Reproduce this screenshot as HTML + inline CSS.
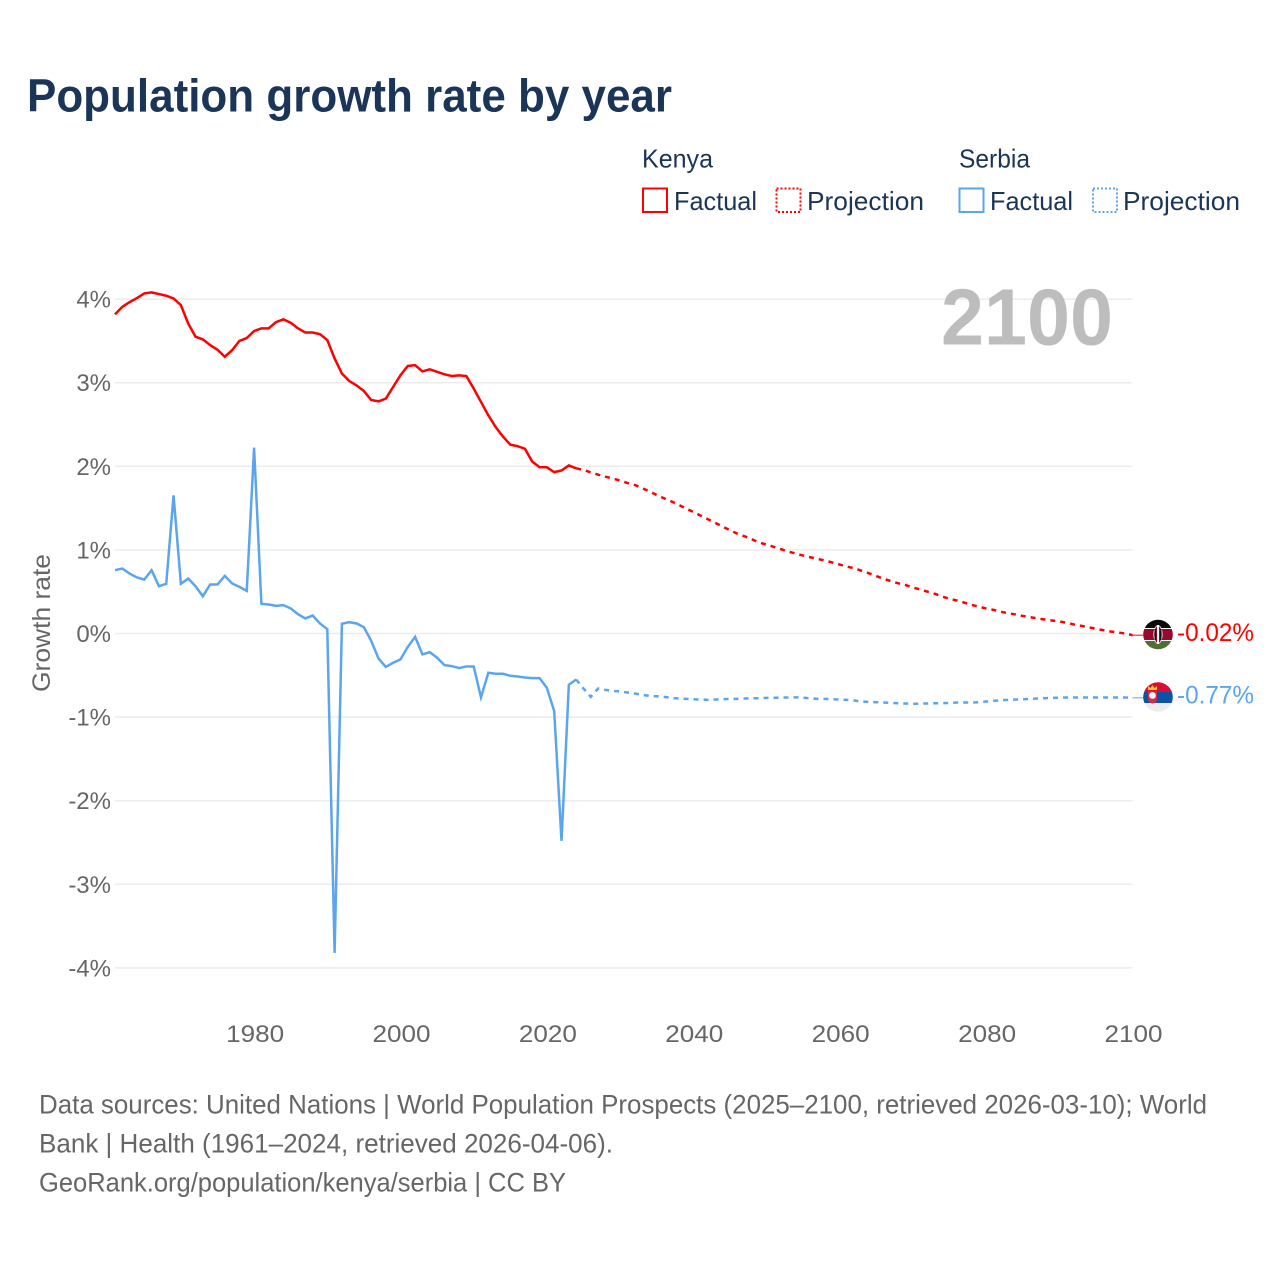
<!DOCTYPE html>
<html lang="en">
<head>
<meta charset="utf-8">
<title>Population growth rate by year</title>
<style>
html,body{margin:0;padding:0;background:#fff;width:1280px;height:1280px;overflow:hidden}
svg{display:block;font-family:"Liberation Sans",sans-serif}
</style>
</head>
<body>
<svg id="chart" width="1280" height="1280" viewBox="0 0 1280 1280" xmlns="http://www.w3.org/2000/svg">
  <defs>
    <clipPath id="clip-kenya"><circle cx="1158" cy="634.5" r="14.8"/></clipPath>
    <clipPath id="clip-serbia"><circle cx="1158" cy="697" r="14.8"/></clipPath>
  </defs>
  <text x="27" y="111.5" font-size="46" font-weight="700" fill="#1a3557" textLength="645" lengthAdjust="spacingAndGlyphs">Population growth rate by year</text>

  <g fill="#1a3557" font-size="26">
    <text x="642" y="167.500" textLength="71" lengthAdjust="spacingAndGlyphs">Kenya</text>
    <rect x="643" y="188.500" width="24" height="23.500" fill="#fff" stroke="#ff0000" stroke-width="2"/>
    <text x="674" y="210" textLength="83" lengthAdjust="spacingAndGlyphs">Factual</text>
    <rect x="776.5" y="188.500" width="24" height="23.500" fill="#fff" stroke="#ff0000" stroke-width="2" stroke-dasharray="2 2"/>
    <text x="807" y="210" textLength="117" lengthAdjust="spacingAndGlyphs">Projection</text>
    <text x="959" y="167.500" textLength="71" lengthAdjust="spacingAndGlyphs">Serbia</text>
    <rect x="959.5" y="188.500" width="24" height="23.500" fill="#fff" stroke="#5ba5ee" stroke-width="2"/>
    <text x="990" y="210" textLength="83" lengthAdjust="spacingAndGlyphs">Factual</text>
    <rect x="1093" y="188.500" width="24" height="23.500" fill="#fff" stroke="#5ba5ee" stroke-width="2" stroke-dasharray="2 2"/>
    <text x="1123" y="210" textLength="117" lengthAdjust="spacingAndGlyphs">Projection</text>
  </g>

  <g id="grid"></g>
  <text x="941" y="344.500" font-size="80" font-weight="700" fill="#bdbdbd" textLength="172" lengthAdjust="spacingAndGlyphs">2100</text>
  <g id="y-ticks"></g>
  <g id="x-ticks"></g>
  <text transform="translate(50 623) rotate(-90)" text-anchor="middle" font-size="25" fill="#666" textLength="138" lengthAdjust="spacingAndGlyphs">Growth rate</text>
  <g id="series"></g>

  <g clip-path="url(#clip-kenya)">
    <rect x="1143" y="619" width="30" height="9" fill="#0b0b0b"/>
    <rect x="1143" y="628" width="30" height="13" fill="#fff"/>
    <rect x="1143" y="629" width="30" height="11" fill="#97072e"/>
    <rect x="1143" y="641" width="30" height="9" fill="#4f7034"/>
    <ellipse cx="1158" cy="634.5" rx="4.2" ry="9" fill="#97072e" stroke="#fff" stroke-width="0.8"/>
    <rect x="1157" y="625" width="2" height="19" fill="#fff"/>
    <rect x="1154.5" y="629" width="1.6" height="11" fill="#111"/>
    <rect x="1159.9" y="629" width="1.6" height="11" fill="#111"/>
  </g>
  <g clip-path="url(#clip-serbia)">
    <rect x="1143" y="682" width="30" height="10" fill="#d80e36"/>
    <rect x="1143" y="692" width="30" height="11" fill="#0c52a8"/>
    <rect x="1143" y="703" width="30" height="10" fill="#ececec"/>
    <polygon points="1148,690 1148,686 1150.5,688 1152.500,685 1154.500,688 1157,686 1157,690" fill="#f2c230"/>
    <path d="M1148 691h9v8a4.500 4.500 0 0 1-9 0z" fill="#c9304a"/>
    <circle cx="1152.500" cy="695.500" r="3.400" fill="#f2f2f2"/>
  </g>
  <text id="end-label-kenya" x="1177" y="641" font-size="25" fill="#ff0000" textLength="77" lengthAdjust="spacingAndGlyphs"></text>
  <text id="end-label-serbia" x="1177" y="703.500" font-size="25" fill="#5ba5ee" textLength="77" lengthAdjust="spacingAndGlyphs"></text>

  <g font-size="27" fill="#666">
    <text x="39" y="1113.500" textLength="1168" lengthAdjust="spacingAndGlyphs">Data sources: United Nations | World Population Prospects (2025–2100, retrieved 2026-03-10); World</text>
    <text x="39" y="1152.500" textLength="574" lengthAdjust="spacingAndGlyphs">Bank | Health (1961–2024, retrieved 2026-04-06).</text>
    <text x="39" y="1191.500" textLength="527" lengthAdjust="spacingAndGlyphs">GeoRank.org/population/kenya/serbia | CC BY</text>
  </g>
</svg>
<script>
const factualStartYear = 1961;
const projectionStartYear = 2024;
const yTickValues = [4, 3, 2, 1, 0, -1, -2, -3, -4];
const xTickValues = [1980, 2000, 2020, 2040, 2060, 2080, 2100];

const kenyaFactual = [3.817,3.908,3.964,4.012,4.068,4.08,4.06,4.04,4.008,3.928,3.709,3.55,3.518,3.45,3.394,3.31,3.39,3.5,3.534,3.618,3.65,3.65,3.725,3.757,3.717,3.65,3.6,3.6,3.58,3.51,3.29,3.11,3.02,2.968,2.9,2.793,2.777,2.81,2.95,3.09,3.2,3.21,3.135,3.16,3.13,3.1,3.08,3.088,3.08,2.93,2.77,2.61,2.47,2.355,2.26,2.24,2.21,2.056,1.99,1.988,1.93,1.95,2.01,1.976];
const kenyaProjection = [1.976,1.956,1.928,1.9,1.876,1.853,1.83,1.8,1.777,1.74,1.7,1.657,1.618,1.58,1.54,1.494,1.454,1.41,1.367,1.323,1.28,1.235,1.195,1.163,1.127,1.088,1.064,1.036,1.008,0.98,0.956,0.932,0.912,0.892,0.872,0.849,0.825,0.8,0.78,0.75,0.72,0.687,0.655,0.627,0.6,0.58,0.55,0.527,0.5,0.475,0.443,0.415,0.395,0.37,0.343,0.32,0.3,0.283,0.26,0.243,0.228,0.21,0.196,0.18,0.168,0.156,0.144,0.128,0.108,0.092,0.076,0.056,0.04,0.024,0.012,0,-0.02];
const serbiaFactual = [0.757,0.777,0.717,0.67,0.645,0.757,0.566,0.594,1.653,0.594,0.657,0.566,0.446,0.586,0.586,0.69,0.598,0.558,0.51,2.223,0.355,0.347,0.33,0.339,0.3,0.23,0.18,0.215,0.12,0.052,-3.82,0.116,0.135,0.12,0.076,-0.088,-0.3,-0.4,-0.35,-0.31,-0.16,-0.04,-0.25,-0.223,-0.29,-0.378,-0.39,-0.414,-0.394,-0.394,-0.765,-0.47,-0.482,-0.482,-0.506,-0.514,-0.526,-0.534,-0.534,-0.65,-0.928,-2.48,-0.613,-0.55];
const serbiaProjection = [-0.55,-0.658,-0.758,-0.658,-0.674,-0.686,-0.694,-0.706,-0.718,-0.734,-0.746,-0.75,-0.758,-0.77,-0.778,-0.782,-0.786,-0.79,-0.794,-0.79,-0.786,-0.782,-0.782,-0.778,-0.774,-0.774,-0.77,-0.77,-0.766,-0.766,-0.764,-0.766,-0.778,-0.782,-0.782,-0.786,-0.79,-0.794,-0.802,-0.814,-0.818,-0.822,-0.826,-0.83,-0.834,-0.838,-0.842,-0.838,-0.838,-0.834,-0.834,-0.83,-0.826,-0.826,-0.826,-0.822,-0.814,-0.806,-0.798,-0.794,-0.79,-0.786,-0.782,-0.778,-0.774,-0.77,-0.768,-0.766,-0.766,-0.766,-0.766,-0.766,-0.766,-0.766,-0.766,-0.766,-0.77];

const NS = 'http://www.w3.org/2000/svg';
const xScale = year => 115 + (year - 1961) * 7.32;
const yScale = value => 633.5 - value * 83.6;
const lineWidth = '2.5';

function linePath(startYear, values) {
  return values.map((v, i) => (i ? 'L' : 'M') + xScale(startYear + i).toFixed(2) + ' ' + yScale(v).toFixed(2)).join('');
}

const gridGroup = document.getElementById('grid');
const yTickGroup = document.getElementById('y-ticks');
yTickValues.forEach(v => {
  const gl = document.createElementNS(NS, 'line');
  
  
  gl.setAttribute('x1', xScale(factualStartYear));
  gl.setAttribute('x2', xScale(2100));
  gl.setAttribute('y1', yScale(v));
  gl.setAttribute('y2', yScale(v));
  gl.setAttribute('stroke', '#ececec');
  gl.setAttribute('stroke-width', '1.5');
  gridGroup.appendChild(gl);

  const t = document.createElementNS(NS, 'text');
  
  
  t.setAttribute('x', 111);
  t.setAttribute('y', yScale(v) + 8.5);
  t.setAttribute('text-anchor', 'end');
  t.setAttribute('font-size', '24');
  t.setAttribute('fill', '#666');
  t.textContent = v + '%';
  yTickGroup.appendChild(t);
});

const xTickGroup = document.getElementById('x-ticks');
xTickValues.forEach(year => {
  const t = document.createElementNS(NS, 'text');
  
  
  t.setAttribute('x', xScale(year) + 1);
  t.setAttribute('y', 1042);
  t.setAttribute('text-anchor', 'middle');
  t.setAttribute('font-size', '24');
  t.setAttribute('fill', '#666');
  t.setAttribute('textLength', '58');
  t.setAttribute('lengthAdjust', 'spacingAndGlyphs');
  t.textContent = year;
  xTickGroup.appendChild(t);
});

const seriesGroup = document.getElementById('series');

const kenyaFactualLine = document.createElementNS(NS, 'path');


kenyaFactualLine.setAttribute('d', linePath(factualStartYear, kenyaFactual));
kenyaFactualLine.setAttribute('fill', 'none');
kenyaFactualLine.setAttribute('stroke', '#ff0000');
kenyaFactualLine.setAttribute('stroke-width', lineWidth);
seriesGroup.appendChild(kenyaFactualLine);

const kenyaProjectionLine = document.createElementNS(NS, 'path');


kenyaProjectionLine.setAttribute('d', linePath(projectionStartYear, kenyaProjection));
kenyaProjectionLine.setAttribute('fill', 'none');
kenyaProjectionLine.setAttribute('stroke', '#ff0000');
kenyaProjectionLine.setAttribute('stroke-width', lineWidth);
kenyaProjectionLine.setAttribute('stroke-dasharray', '5 5');
seriesGroup.appendChild(kenyaProjectionLine);

const serbiaFactualLine = document.createElementNS(NS, 'path');


serbiaFactualLine.setAttribute('d', linePath(factualStartYear, serbiaFactual));
serbiaFactualLine.setAttribute('fill', 'none');
serbiaFactualLine.setAttribute('stroke', '#5ba5ee');
serbiaFactualLine.setAttribute('stroke-width', lineWidth);
seriesGroup.appendChild(serbiaFactualLine);

const serbiaProjectionLine = document.createElementNS(NS, 'path');


serbiaProjectionLine.setAttribute('d', linePath(projectionStartYear, serbiaProjection));
serbiaProjectionLine.setAttribute('fill', 'none');
serbiaProjectionLine.setAttribute('stroke', '#5ba5ee');
serbiaProjectionLine.setAttribute('stroke-width', lineWidth);
serbiaProjectionLine.setAttribute('stroke-dasharray', '5 5');
seriesGroup.appendChild(serbiaProjectionLine);

const kenyaLast = kenyaProjection[kenyaProjection.length - 1];
const serbiaLast = serbiaProjection[serbiaProjection.length - 1];

const kenyaConnector = document.createElementNS(NS, 'line');


kenyaConnector.setAttribute('x1', xScale(2100));
kenyaConnector.setAttribute('x2', 1144);
kenyaConnector.setAttribute('y1', yScale(kenyaLast));
kenyaConnector.setAttribute('y2', yScale(kenyaLast));
kenyaConnector.setAttribute('stroke', '#ff0000');
kenyaConnector.setAttribute('stroke-width', '1');
seriesGroup.appendChild(kenyaConnector);

const serbiaConnector = document.createElementNS(NS, 'line');


serbiaConnector.setAttribute('x1', xScale(2100));
serbiaConnector.setAttribute('x2', 1144);
serbiaConnector.setAttribute('y1', yScale(serbiaLast));
serbiaConnector.setAttribute('y2', yScale(serbiaLast));
serbiaConnector.setAttribute('stroke', '#5ba5ee');
serbiaConnector.setAttribute('stroke-width', '1');
seriesGroup.appendChild(serbiaConnector);

document.getElementById('end-label-kenya').textContent = kenyaLast.toFixed(2) + '%';
document.getElementById('end-label-serbia').textContent = serbiaLast.toFixed(2) + '%';
</script>
</body>
</html>
